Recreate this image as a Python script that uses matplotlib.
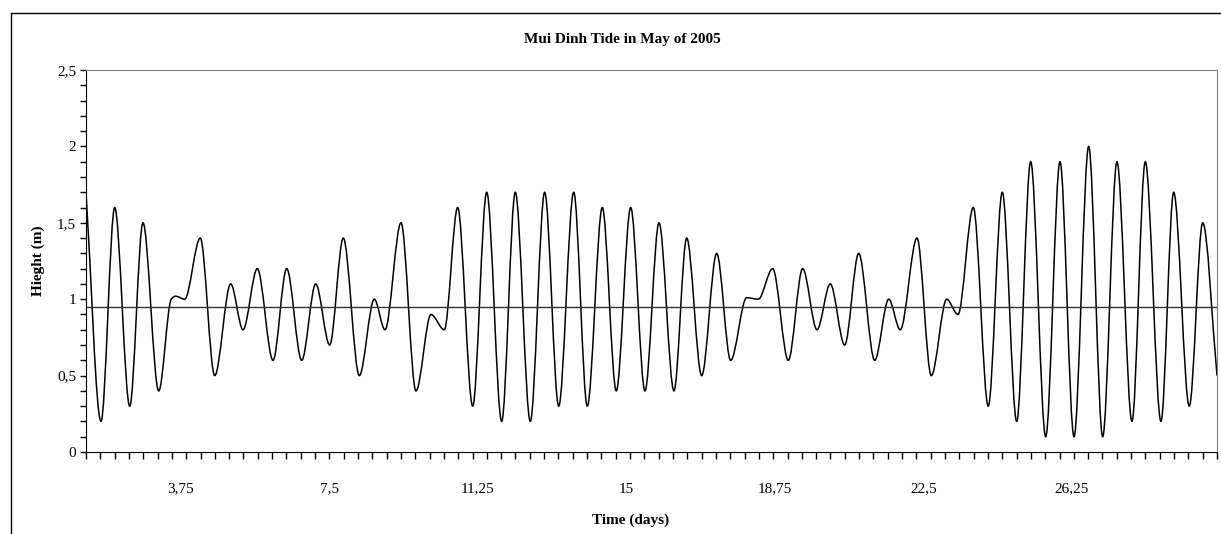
import numpy as np
import matplotlib
matplotlib.use("Agg")
import matplotlib.pyplot as plt
from matplotlib.path import Path
from matplotlib.patches import PathPatch, Rectangle
from matplotlib.ticker import FuncFormatter

# turning points of the tide record (time in days, height in m)
time_days = [1.351, 1.730, 2.076, 2.455, 2.790, 3.187, 3.505, 3.611, 3.843, 4.237,
             4.601, 5.005, 5.316, 5.677, 6.073, 6.419, 6.798, 7.152, 7.505, 7.848,
             8.253, 8.631, 8.902, 9.306, 9.684, 10.063, 10.399, 10.737, 11.116, 11.470,
             11.848, 12.192, 12.571, 12.934, 13.288, 13.667, 14.010, 14.389, 14.742, 15.106,
             15.467, 15.821, 16.199, 16.520, 16.899, 17.278, 17.631, 18.035, 18.328, 18.692,
             19.086, 19.449, 19.811, 20.146, 20.510, 20.864, 21.268, 21.621, 21.914, 22.336,
             22.697, 23.086, 23.371, 23.758, 24.136, 24.490, 24.854, 25.207, 25.586, 25.947,
             26.301, 26.672, 27.025, 27.386, 27.765, 28.101, 28.497, 28.818, 29.212, 29.551,
             29.912]
height_m = [1.7, 0.2, 1.6, 0.3, 1.5, 0.4, 1.0, 1.02, 1.0, 1.4,
            0.5, 1.1, 0.8, 1.2, 0.6, 1.2, 0.6, 1.1, 0.7, 1.4,
            0.5, 1.0, 0.8, 1.5, 0.4, 0.9, 0.8, 1.6, 0.3, 1.7,
            0.2, 1.7, 0.2, 1.7, 0.3, 1.7, 0.3, 1.6, 0.4, 1.6,
            0.4, 1.5, 0.4, 1.4, 0.5, 1.3, 0.6, 1.01, 1.0, 1.2,
            0.6, 1.2, 0.8, 1.1, 0.7, 1.3, 0.6, 1.0, 0.8, 1.4,
            0.5, 1.0, 0.9, 1.6, 0.3, 1.7, 0.2, 1.9, 0.1, 1.9,
            0.1, 2.0, 0.1, 1.9, 0.2, 1.9, 0.2, 1.7, 0.3, 1.5,
            0.5]
mean_level = 0.95

x_label_days = [3.75, 7.5, 11.25, 15, 18.75, 22.5, 26.25]
y_tick_values = [0, 0.5, 1, 1.5, 2, 2.5]


def smooth_path(x, y):
    # smoothed line through the points, monotone tangents so turning points stay turning points
    x = np.asarray(x, float)
    y = np.asarray(y, float)
    dx = np.diff(x)
    s = np.diff(y) / dx
    m = np.zeros_like(y)
    m[0], m[-1] = s[0], s[-1]
    for i in range(1, len(y) - 1):
        if s[i - 1] * s[i] > 0:
            w1 = 2 * dx[i] + dx[i - 1]
            w2 = dx[i] + 2 * dx[i - 1]
            m[i] = (w1 + w2) / (w1 / s[i - 1] + w2 / s[i])
    verts = [(x[0], y[0])]
    codes = [Path.MOVETO]
    for i in range(len(x) - 1):
        h = dx[i] / 3
        verts += [(x[i] + h, y[i] + m[i] * h), (x[i + 1] - h, y[i + 1] - m[i + 1] * h),
                  (x[i + 1], y[i + 1])]
        codes += [Path.CURVE4] * 3
    return Path(verts, codes)


def comma(v, pos=None):
    return f"{v:g}".replace(".", ",")


plt.rcParams['font.family'] = ['Liberation Serif', 'DejaVu Serif']

W, H = 1221, 534
fig = plt.figure(figsize=(W / 100, H / 100), dpi=100)
ax = fig.add_axes([86 / W, 1 - 452 / H, (1217 - 86) / W, (452 - 70) / H])

# chart frame (only its left and top edges fall inside the picture)
fig.patches.append(Rectangle((10.5 / W, -0.2), 1.5, 1.2 - 13 / H, transform=fig.transFigure,
                             fill=False, edgecolor='black', linewidth=1.0))

ax.add_patch(PathPatch(smooth_path(time_days, height_m), facecolor='none',
                       edgecolor='black', linewidth=1.1))
ax.axhline(mean_level, color='#333333', linewidth=1.0)

ax.set_xlim(time_days[0], time_days[-1])
ax.set_ylim(y_tick_values[0], y_tick_values[-1])

ax.set_xticks(x_label_days)
ax.set_xticks(np.linspace(time_days[0], time_days[-1], 80), minor=True)
ax.xaxis.remove_overlapping_locs = False
ax.xaxis.set_major_formatter(FuncFormatter(comma))
ax.tick_params(axis='x', which='major', length=0, pad=22, labelsize=11)
ax.tick_params(axis='x', which='minor', length=5, width=1, direction='out')

ax.set_yticks(y_tick_values)
ax.set_yticks(np.arange(0, 2.51, 0.1), minor=True)
ax.yaxis.set_major_formatter(FuncFormatter(comma))
ax.tick_params(axis='y', which='both', length=4, width=1, direction='out', pad=3, labelsize=11)

for s in ['top', 'right']:
    ax.spines[s].set_color('#808080')
for s in ['left', 'bottom']:
    ax.spines[s].set_color('black')

fig.text(622 / W, 1 - 40 / H, 'Mui Dinh Tide in May of 2005', fontsize=11,
         fontweight='bold', ha='center', va='center')
fig.text(631 / W, 1 - 520 / H, 'Time (days)', fontsize=11,
         fontweight='bold', ha='center', va='center')
fig.text(38 / W, 1 - 261 / H, 'Hieght (m)', fontsize=11, fontweight='bold',
         ha='center', va='center', rotation=90)

fig.savefig('out.png', dpi=100)
